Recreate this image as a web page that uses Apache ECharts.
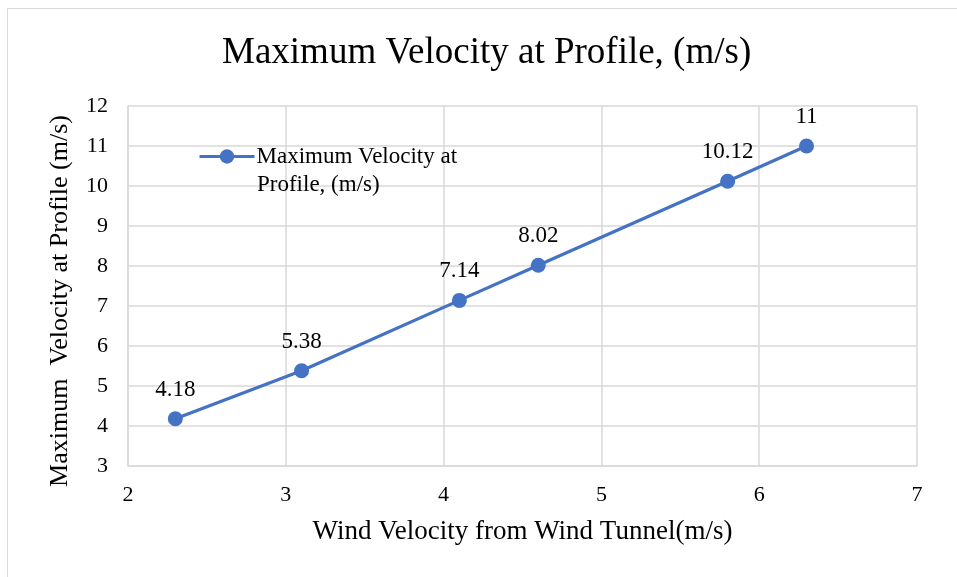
<!DOCTYPE html>
<html>
<head>
<meta charset="utf-8">
<script src="https://cdn.jsdelivr.net/npm/echarts@6/dist/echarts.min.js"></script>
<style>
  html, body { margin: 0; padding: 0; background: #fff; }
  #frame { position: absolute; left: 7px; top: 8px; width: 960px; height: 580px; border: 1px solid #d9d9d9; box-sizing: border-box; }
  #chart { position: absolute; left: 0; top: 0; width: 957px; height: 577px; }
</style>
</head>
<body>
<div id="frame"></div>
<div id="chart"></div>
<script>
// Wind tunnel speed vs. peak profile velocity
const windVelocity = [2.3, 3.1, 4.1, 4.6, 5.8, 6.3];
const maxVelocity = [4.18, 5.38, 7.14, 8.02, 10.12, 11];
const seriesName = 'Maximum Velocity at Profile, (m/s)';
const legendLines = ['Maximum Velocity at', 'Profile, (m/s)'];

const FONT = '"Liberation Serif", "Times New Roman", serif';
const BLUE = '#4472C4';
const GRID_LINE = { color: '#d9d9d9', width: 1.5 };
const chart = echarts.init(document.getElementById('chart'), null, { renderer: 'canvas' });

chart.setOption({
  backgroundColor: 'transparent',
  animation: false,
  textStyle: { fontFamily: FONT },
  title: {
    text: seriesName,
    left: 217,
    top: 30,
    textStyle: { fontFamily: FONT, fontSize: 37, fontWeight: 'normal', color: '#000' }
  },
  legend: {
    left: 193,
    top: 140,
    itemWidth: 55,
    itemHeight: 18,
    lineStyle: { width: 3 },
    formatter: () => legendLines[0],
    textStyle: { fontFamily: FONT, fontSize: 23, color: '#000', padding: [0, 0, 0, -3] }
  },
  // second line of the wrapped legend label
  graphic: [{
    type: 'text',
    left: 257,
    top: 173,
    z: 100,
    style: { text: legendLines[1], font: '23px ' + FONT, fill: '#000' }
  }],
  grid: { left: 128, top: 106, right: 40, bottom: 111 },
  xAxis: {
    type: 'value',
    min: 2, max: 7, interval: 1,
    name: 'Wind Velocity from Wind Tunnel(m/s)',
    nameLocation: 'middle',
    nameGap: 52,
    nameTextStyle: { fontFamily: FONT, fontSize: 27, color: '#000' },
    axisLine: { show: true, lineStyle: GRID_LINE },
    axisTick: { show: false },
    axisLabel: { fontFamily: FONT, fontSize: 22, color: '#000', margin: 18 },
    splitLine: { show: true, lineStyle: GRID_LINE }
  },
  yAxis: {
    type: 'value',
    min: 3, max: 12, interval: 1,
    name: 'Maximum  Velocity at Profile (m/s)',
    nameLocation: 'middle',
    nameGap: 55,
    nameTextStyle: { fontFamily: FONT, fontSize: 26, color: '#000', padding: [0, 30, 0, 0] },
    axisLine: { show: true, lineStyle: GRID_LINE },
    axisTick: { show: false },
    axisLabel: { fontFamily: FONT, fontSize: 22, color: '#000', margin: 20 },
    splitLine: { show: true, lineStyle: GRID_LINE }
  },
  series: [{
    name: seriesName,
    type: 'line',
    data: windVelocity.map((x, i) => [x, maxVelocity[i]]),
    color: BLUE,
    lineStyle: { width: 3.2, color: BLUE },
    symbol: 'circle',
    symbolSize: 15,
    itemStyle: { color: BLUE },
    label: {
      show: true,
      position: 'top',
      distance: 10,
      fontFamily: FONT,
      fontSize: 23,
      color: '#000',
      formatter: p => String(p.value[1])
    }
  }]
});
</script>
</body>
</html>
